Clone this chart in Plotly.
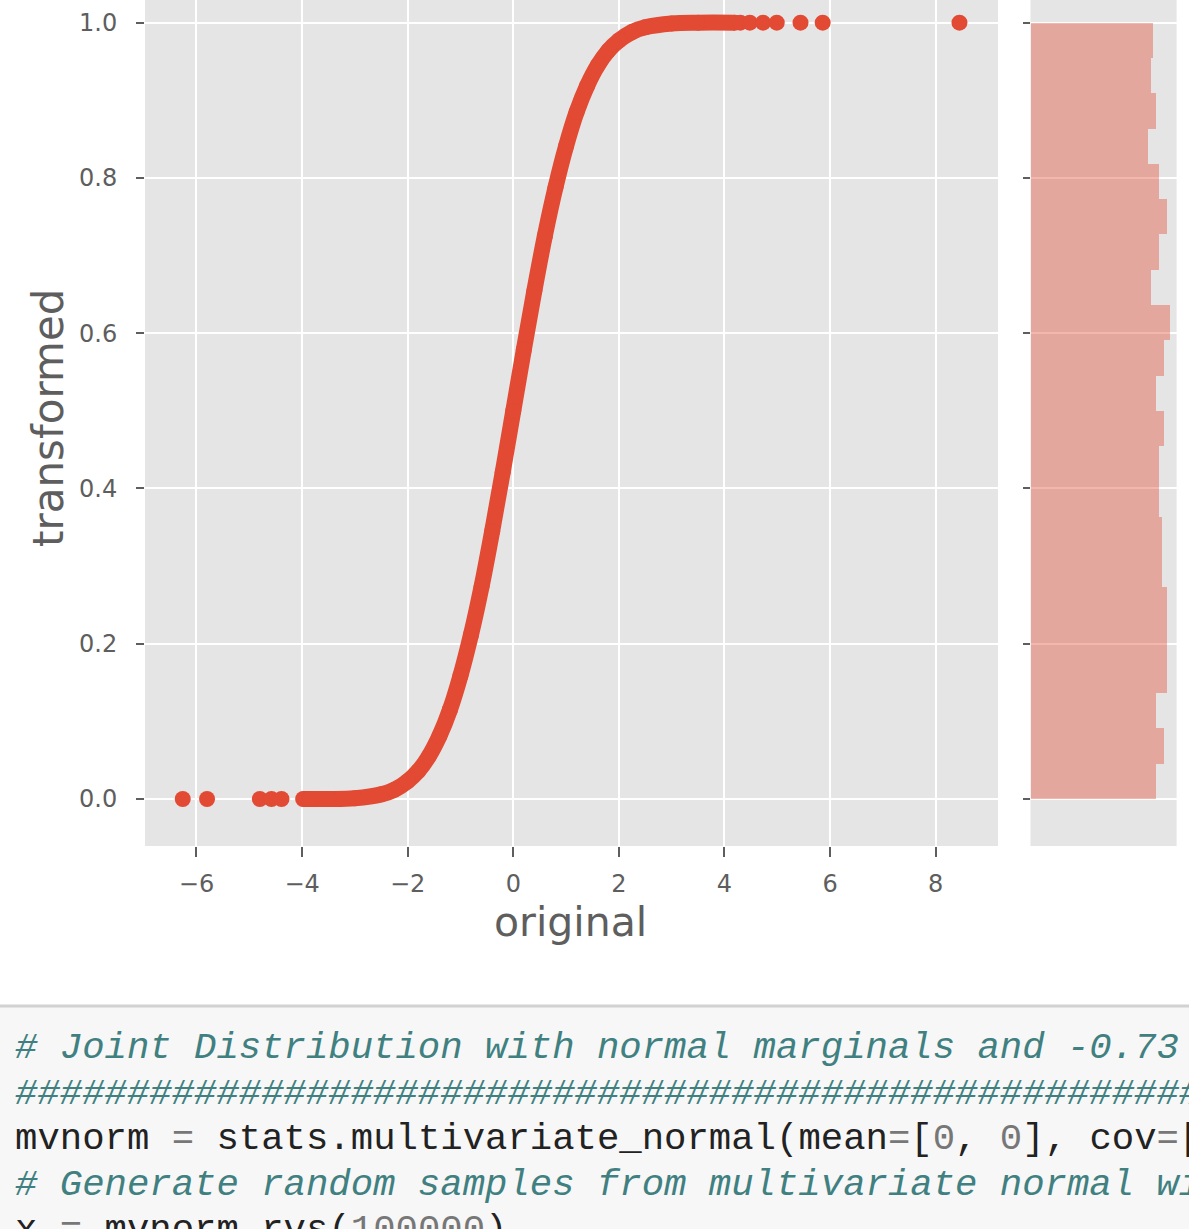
import numpy as np
import plotly.graph_objects as go

# ---------------- data ----------------
# dense part of the scatter (original vs transformed)
curve_x = [-3.95, -3.5, -3.0, -2.5, -2.25, -2.0, -1.8, -1.6, -1.4, -1.2, -1.0,
           -0.8, -0.6, -0.4, -0.2, 0.0, 0.2, 0.4, 0.6, 0.8, 1.0, 1.2, 1.4,
           1.6, 1.8, 2.0, 2.25, 2.5, 3.0, 3.5, 4.2]
curve_y = [0.000, 0.000, 0.001, 0.006, 0.012, 0.023, 0.036, 0.055, 0.081, 0.115, 0.159,
           0.212, 0.274, 0.345, 0.421, 0.500, 0.579, 0.655, 0.726, 0.788, 0.841, 0.885, 0.919,
           0.945, 0.964, 0.977, 0.988, 0.994, 0.999, 1.000, 1.000]

# sparse points in the tails
tail_x = [-6.26, -5.80, -4.80, -4.58, -4.39, -3.98, -3.85,
          4.30, 4.48, 4.73, 4.99, 5.44, 5.86, 8.45]
tail_y = [0.0, 0.0, 0.0, 0.0, 0.0, 0.0, 0.0,
          1.0, 1.0, 1.0, 1.0, 1.0, 1.0, 1.0]

# marginal histogram of "transformed" (22 bins on [0, 1]), bottom to top
hist_lo, hist_hi, hist_bins = 0.0, 1.0, 22
hist_density = [0.973, 1.035, 0.973, 1.053, 1.053, 1.053, 1.014, 1.014, 0.993, 0.993, 1.035,
                0.973, 1.035, 1.076, 0.931, 0.993, 1.053, 0.993, 0.910, 0.973, 0.931, 0.949]

x_ticks = [-6, -4, -2, 0, 2, 4, 6, 8]
x_ticktext = ["\u22126", "\u22124", "\u22122", "0", "2", "4", "6", "8"]
y_ticks = [0.0, 0.2, 0.4, 0.6, 0.8, 1.0]
y_ticktext = ["0.0", "0.2", "0.4", "0.6", "0.8", "1.0"]

code_lines = [
    "<i># Joint Distribution with normal marginals and -0.73 correlation</i>",
    "<i>" + "#" * 80 + "</i>",
    "mvnorm <span style='color:#777'>=</span> stats.multivariate_normal(mean<span style='color:#777'>=</span>[<span style='color:#777'>0</span>, <span style='color:#777'>0</span>], cov<span style='color:#777'>=</span>[[<span style='color:#777'>1.</span>, <span style='color:#777'>-0.73</span>], [<span style='color:#777'>-0.73</span>, <span style='color:#777'>1.</span>]])",
    "<i># Generate random samples from multivariate normal with correlation</i>",
    "x <span style='color:#777'>=</span> mvnorm.rvs(<span style='color:#777'>100000</span>)",
]
code_colors = ["#408080", "#408080", "#222222", "#408080", "#222222"]

# ---------------- styling ----------------
RED = "#E24A33"
W, H = 1189, 1229
TICKC = "#5E5E5E"
FONT = "DejaVu Sans"

edges = np.linspace(hist_lo, hist_hi, hist_bins + 1)
centers = (edges[:-1] + edges[1:]) / 2
bw = (hist_hi - hist_lo) / hist_bins

fig = go.Figure()
fig.add_trace(go.Scatter(
    x=curve_x, y=curve_y, mode="lines+markers",
    line=dict(color=RED, width=16, shape="spline"),
    marker=dict(size=16, color=RED), hoverinfo="skip",
    xaxis="x", yaxis="y", showlegend=False))
fig.add_trace(go.Scatter(
    x=tail_x, y=tail_y, mode="markers",
    marker=dict(size=16, color=RED, line=dict(width=0)),
    xaxis="x", yaxis="y", showlegend=False))
fig.add_trace(go.Bar(
    x=hist_density, y=centers, orientation="h", width=bw,
    marker=dict(color="rgba(226,74,51,0.4)", line=dict(width=0)),
    xaxis="x2", yaxis="y2", showlegend=False))

ydom = [1 - 846 / H, 1.0]
yrange = [-0.0605, 1.0292]

axis_common = dict(showgrid=True, gridcolor="white", gridwidth=2,
                   zeroline=False, showline=False,
                   ticks="outside", tickcolor=TICKC, tickwidth=1.5,
                   tickfont=dict(family=FONT, size=24, color=TICKC))

fig.update_layout(
    width=W, height=H,
    margin=dict(l=0, r=0, t=0, b=0),
    paper_bgcolor="white", plot_bgcolor="#E5E5E5",
    bargap=0,
    xaxis=dict(domain=[145 / W, 998 / W], range=[-6.975, 9.18],
               tickmode="array", tickvals=x_ticks, ticktext=x_ticktext,
               ticklen=10, ticklabelstandoff=6, anchor="y", **axis_common),
    yaxis=dict(domain=ydom, range=yrange,
               tickmode="array", tickvals=y_ticks, ticktext=y_ticktext,
               ticklen=8, ticklabelstandoff=14, anchor="x", **axis_common),
    xaxis2=dict(domain=[1030.5 / W, 1176.6 / W], range=[0, 1.135],
                showgrid=False, zeroline=False, showline=False,
                showticklabels=False, ticks="", anchor="y2"),
    yaxis2=dict(domain=ydom, range=yrange,
                tickmode="array", tickvals=y_ticks, showticklabels=False,
                showgrid=True, gridcolor="white", gridwidth=2,
                zeroline=False, showline=False,
                ticks="outside", ticklen=7, tickcolor=TICKC, tickwidth=1.5,
                anchor="x2"),
)

annotations = [
    dict(text="original", x=570 / W, y=1 - 922 / H, xref="paper", yref="paper",
         xanchor="center", yanchor="middle", showarrow=False,
         font=dict(family=FONT, size=41, color=TICKC)),
    dict(text="transformed", x=48 / W, y=1 - 418 / H, xref="paper", yref="paper",
         xanchor="center", yanchor="middle", showarrow=False, textangle=-90,
         font=dict(family=FONT, size=42, color=TICKC)),
]
line_centers = [1048, 1093.5, 1139, 1184.5, 1230]
for txt, col, yc in zip(code_lines, code_colors, line_centers):
    annotations.append(dict(
        text=txt, x=13 / W, y=1 - yc / H, xref="paper", yref="paper",
        xanchor="left", yanchor="middle", showarrow=False, align="left",
        font=dict(family="Liberation Mono", size=37.3, color=col)))
fig.update_layout(annotations=annotations)

# notebook code-cell background below the chart
fig.update_layout(shapes=[
    dict(type="rect", xref="paper", yref="paper", x0=0, x1=1,
         y0=-0.01, y1=1 - 1007 / H, fillcolor="#F7F7F7", line=dict(width=0),
         layer="below"),
    dict(type="line", xref="paper", yref="paper", x0=0, x1=1,
         y0=1 - 1006 / H, y1=1 - 1006 / H, line=dict(color="#D2D2D2", width=3)),
])

fig.write_html("out.html", config={"displayModeBar": False},
               post_script="document.body.style.margin='0';document.body.style.overflow='hidden';")
